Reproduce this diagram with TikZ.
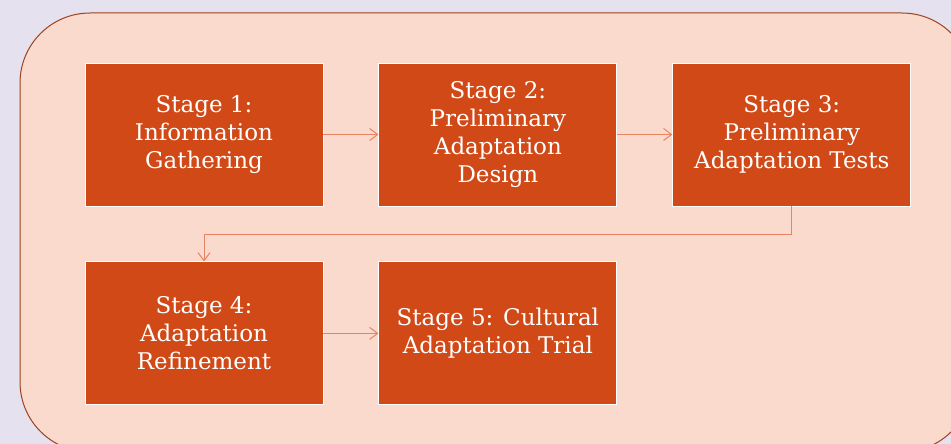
\documentclass[tikz,border=0pt]{standalone}
\usepackage{fontspec}
\setmainfont{DejaVu Serif}
\usetikzlibrary{arrows.meta,positioning}
\definecolor{lavender}{RGB}{230,225,238}
\definecolor{peach}{RGB}{249,218,205}
\definecolor{rimbrown}{RGB}{160,65,30}
\definecolor{stageorange}{RGB}{209,73,23}
\definecolor{linksalmon}{RGB}{234,130,100}
\begin{document}
\begin{tikzpicture}[x=1pt,y=-1pt,node distance=55pt,
    stagebox/.style={draw=white,line width=0.9pt,fill=stageorange,text=white,minimum width=238pt,minimum height=143pt,inner sep=0pt,align=center,font=\fontsize{23}{28}\selectfont},
    link/.style={-{Straight Barb[length=8pt,width=12pt]},line width=1pt,linksalmon}]
    \useasboundingbox (0,0) rectangle (951,444);
    \clip (0,0) rectangle (951,444);
    \fill[lavender] (0,0) rectangle (951,444);
    \draw[rimbrown,line width=1pt,fill=peach,rounded corners=70pt] (20,13) rectangle (972,452);
    \node[stagebox] (s1) at (204,134.5) {Stage 1:\\Information\\Gathering};
    \node[stagebox,right=of s1] (s2) {Stage 2:\\Preliminary\\Adaptation\\Design};
    \node[stagebox,right=of s2] (s3) {Stage 3:\\Preliminary\\Adaptation Tests};
    \node[stagebox,below=of s1] (s4) {Stage 4:\\Adaptation\\Refinement};
    \node[stagebox,right=of s4] (s5) {Stage 5: Cultural\\Adaptation Trial};
    \draw[link] (s1) -- (s2);
    \draw[link] (s2) -- (s3);
    \draw[link] (s3.south) -- ++(0,28) -| (s4.north);
    \draw[link] (s4) -- (s5);
\end{tikzpicture}
\end{document}
